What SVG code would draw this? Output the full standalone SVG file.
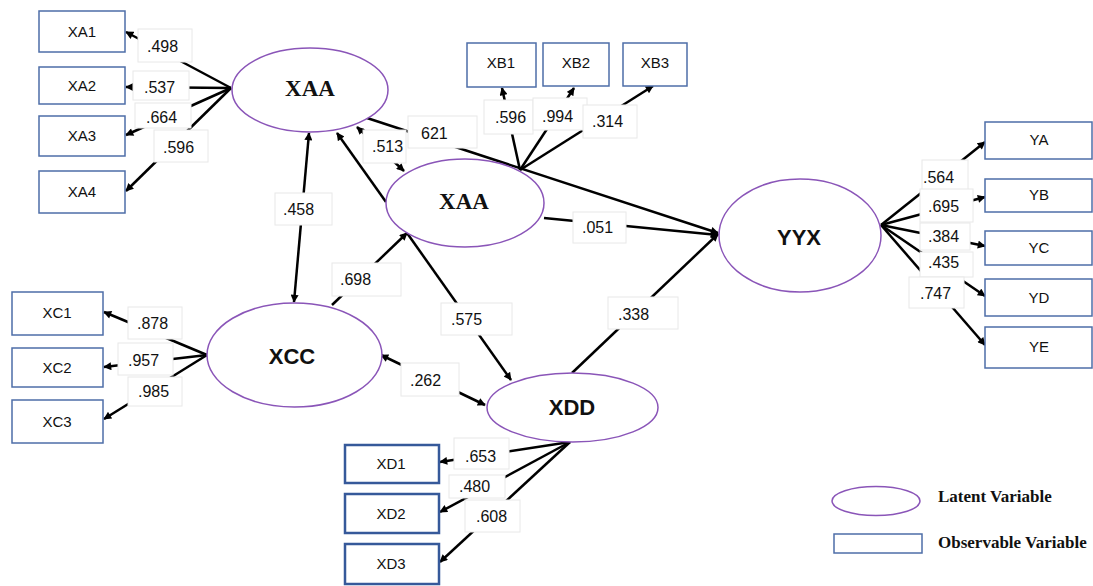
<svg xmlns="http://www.w3.org/2000/svg" width="1093" height="586" viewBox="0 0 1093 586">
  <defs>
    <marker id="arrow" viewBox="0 0 10 10" refX="9" refY="5" markerWidth="9" markerHeight="8" markerUnits="userSpaceOnUse" orient="auto-start-reverse">
      <path d="M0,0 L10,5 L0,10 z" fill="#000"/>
    </marker>
    <style>
      .bg { fill: #fff; }
      .latent { fill: #fff; stroke: #8a55b8; stroke-width: 1.5; }
      .obs { fill: #fff; stroke: #4e6ea8; stroke-width: 1.5; }
      .obs2 { fill: #fff; stroke: #36599a; stroke-width: 2.5; }
      .edge { fill: none; stroke: #000; stroke-width: 2.5; }
      .one { marker-end: url(#arrow); }
      .two { marker-start: url(#arrow); marker-end: url(#arrow); }
      .lbl { fill: #fff; stroke: #e8e8e8; stroke-width: 1; }
      .num { font-family: "Liberation Sans", Arial, sans-serif; font-size: 16px; fill: #111; }
      .obst { font-family: "Liberation Sans", Arial, sans-serif; font-size: 15px; fill: #111; text-anchor: middle; }
      .latS { font-family: "Liberation Sans", Arial, sans-serif; font-size: 22px; font-weight: bold; fill: #111; text-anchor: middle; }
      .latR { font-family: "Liberation Serif", "Times New Roman", serif; font-size: 23px; font-weight: bold; fill: #111; text-anchor: middle; }
      .leg { font-family: "Liberation Serif", "Times New Roman", serif; font-size: 17px; font-weight: bold; fill: #111; }
    </style>
  </defs>
  <rect class="bg" x="0" y="0" width="1093" height="586"/>

  <!-- paths and loadings -->
  <g id="connectors">
    <!-- XAA indicators -->
    <line class="edge one" x1="231" y1="88" x2="126" y2="32"/>
    <line class="edge one" x1="231" y1="88" x2="126" y2="87"/>
    <line class="edge one" x1="231" y1="88" x2="126" y2="135"/>
    <line class="edge one" x1="231" y1="88" x2="126" y2="191"/>
    <!-- structural paths -->
    <line class="edge two" x1="309" y1="133" x2="294" y2="302"/>
    <line class="edge two" x1="357" y1="127" x2="404" y2="171"/>
    <line class="edge one" x1="386" y1="202" x2="337" y2="133"/>
    <line class="edge one" x1="367" y1="118" x2="718" y2="233"/>
    <line class="edge one" x1="544" y1="218" x2="718" y2="235"/>
    <line class="edge one" x1="332" y1="305" x2="407" y2="233"/>
    <line class="edge one" x1="407" y1="233" x2="511" y2="380"/>
    <line class="edge two" x1="381" y1="355" x2="485" y2="405"/>
    <line class="edge one" x1="572" y1="373" x2="718" y2="234"/>
    <!-- XAA (right) indicators -->
    <line class="edge one" x1="520" y1="170" x2="502" y2="88"/>
    <line class="edge one" x1="520" y1="170" x2="574" y2="88"/>
    <line class="edge one" x1="520" y1="170" x2="653" y2="86"/>
    <!-- XCC indicators -->
    <line class="edge one" x1="207" y1="355" x2="104" y2="312"/>
    <line class="edge one" x1="207" y1="355" x2="104" y2="367"/>
    <line class="edge one" x1="207" y1="355" x2="104" y2="419"/>
    <!-- XDD indicators -->
    <line class="edge one" x1="570" y1="442" x2="440" y2="462"/>
    <line class="edge one" x1="570" y1="442" x2="440" y2="512"/>
    <line class="edge one" x1="570" y1="442" x2="440" y2="562"/>
    <!-- YYX indicators -->
    <line class="edge one" x1="881" y1="225" x2="985" y2="142"/>
    <line class="edge one" x1="881" y1="225" x2="985" y2="197"/>
    <line class="edge one" x1="881" y1="225" x2="985" y2="246"/>
    <line class="edge one" x1="881" y1="225" x2="985" y2="296"/>
    <line class="edge one" x1="881" y1="225" x2="985" y2="345"/>

    <!-- coefficient labels -->
    <rect class="lbl" x="138" y="29" width="54" height="33"/><text class="num" x="147" y="52">.498</text>
    <rect class="lbl" x="133" y="71" width="56" height="29"/><text class="num" x="144" y="93">.537</text>
    <rect class="lbl" x="135" y="103" width="56" height="25"/><text class="num" x="146" y="123">.664</text>
    <rect class="lbl" x="154" y="130" width="54" height="32"/><text class="num" x="163" y="153">.596</text>
    <rect class="lbl" x="275" y="193" width="57" height="32"/><text class="num" x="283" y="215">.458</text>
    <rect class="lbl" x="363" y="130" width="43" height="33"/><text class="num" x="372" y="152">.513</text>
    <rect class="lbl" x="408" y="116" width="69" height="32"/><text class="num" x="421" y="139">621</text>
    <rect class="lbl" x="484" y="100" width="49" height="34"/><text class="num" x="495" y="123">.596</text>
    <rect class="lbl" x="533" y="98" width="54" height="32"/><text class="num" x="542" y="122">.994</text>
    <rect class="lbl" x="583" y="105" width="54" height="33"/><text class="num" x="592" y="127">.314</text>
    <rect class="lbl" x="573" y="212" width="53" height="31"/><text class="num" x="582" y="233">.051</text>
    <rect class="lbl" x="922" y="160" width="46" height="30"/><text class="num" x="923" y="183">.564</text>
    <rect class="lbl" x="920" y="189" width="53" height="33"/><text class="num" x="928" y="212">.695</text>
    <rect class="lbl" x="920" y="223" width="50" height="27"/><text class="num" x="928" y="242">.384</text>
    <rect class="lbl" x="920" y="252" width="53" height="25"/><text class="num" x="928" y="268">.435</text>
    <rect class="lbl" x="909" y="277" width="55" height="31"/><text class="num" x="920" y="299">.747</text>
    <rect class="lbl" x="128" y="307" width="54" height="32"/><text class="num" x="137" y="329">.878</text>
    <rect class="lbl" x="118" y="343" width="55" height="32"/><text class="num" x="128" y="366">.957</text>
    <rect class="lbl" x="128" y="377" width="54" height="29"/><text class="num" x="138" y="397">.985</text>
    <rect class="lbl" x="332" y="263" width="69" height="33"/><text class="num" x="340" y="285">.698</text>
    <rect class="lbl" x="441" y="303" width="71" height="32"/><text class="num" x="451" y="325">.575</text>
    <rect class="lbl" x="401" y="363" width="58" height="33"/><text class="num" x="410" y="386">.262</text>
    <rect class="lbl" x="608" y="297" width="70" height="32"/><text class="num" x="618" y="320">.338</text>
    <rect class="lbl" x="454" y="438" width="55" height="31"/><text class="num" x="465" y="462">.653</text>
    <rect class="lbl" x="449" y="475" width="56" height="23"/><text class="num" x="459" y="492">.480</text>
    <rect class="lbl" x="465" y="500" width="55" height="32"/><text class="num" x="476" y="522">.608</text>
  </g>

  <!-- latent variables -->
  <g id="node-xaa-top">
    <ellipse class="latent" cx="310" cy="90" rx="78" ry="42"/>
    <text class="latR" x="310" y="96">XAA</text>
  </g>
  <g id="node-xaa-mid">
    <ellipse class="latent" cx="465" cy="203" rx="79" ry="44"/>
    <text class="latR" x="464" y="209">XAA</text>
  </g>
  <g id="node-yyx">
    <ellipse class="latent" cx="800" cy="235.5" rx="81" ry="56.5"/>
    <text class="latS" x="799" y="245">YYX</text>
  </g>
  <g id="node-xcc">
    <ellipse class="latent" cx="294.5" cy="355" rx="87.5" ry="52"/>
    <text class="latS" x="292" y="364">XCC</text>
  </g>
  <g id="node-xdd">
    <ellipse class="latent" cx="572.5" cy="407.5" rx="85.5" ry="34.5"/>
    <text class="latS" x="572" y="415">XDD</text>
  </g>

  <!-- observed indicators -->
  <g id="node-xa1"><rect class="obs" x="39" y="11" width="86" height="41"/><text class="obst" x="82" y="37">XA1</text></g>
  <g id="node-xa2"><rect class="obs" x="39" y="67" width="86" height="37"/><text class="obst" x="82" y="91">XA2</text></g>
  <g id="node-xa3"><rect class="obs" x="39" y="116" width="86" height="40"/><text class="obst" x="82" y="141">XA3</text></g>
  <g id="node-xa4"><rect class="obs" x="39" y="171" width="86" height="42"/><text class="obst" x="82" y="197">XA4</text></g>

  <g id="node-xb1"><rect class="obs" x="467" y="43" width="69" height="44"/><text class="obst" x="501" y="68">XB1</text></g>
  <g id="node-xb2"><rect class="obs" x="543" y="43" width="66" height="43"/><text class="obst" x="576" y="68">XB2</text></g>
  <g id="node-xb3"><rect class="obs" x="623" y="43" width="64" height="43"/><text class="obst" x="655" y="68">XB3</text></g>

  <g id="node-ya"><rect class="obs" x="985" y="122" width="107" height="37"/><text class="obst" x="1039" y="145">YA</text></g>
  <g id="node-yb"><rect class="obs" x="985" y="179" width="107" height="33"/><text class="obst" x="1039" y="200">YB</text></g>
  <g id="node-yc"><rect class="obs" x="985" y="231" width="107" height="34"/><text class="obst" x="1039" y="253">YC</text></g>
  <g id="node-yd"><rect class="obs" x="985" y="279" width="107" height="37"/><text class="obst" x="1039" y="303">YD</text></g>
  <g id="node-ye"><rect class="obs" x="985" y="327" width="107" height="41"/><text class="obst" x="1039" y="352">YE</text></g>

  <g id="node-xc1"><rect class="obs" x="12" y="292" width="91" height="43"/><text class="obst" x="57" y="318">XC1</text></g>
  <g id="node-xc2"><rect class="obs" x="12" y="348" width="91" height="39"/><text class="obst" x="57" y="373">XC2</text></g>
  <g id="node-xc3"><rect class="obs" x="12" y="400" width="91" height="43"/><text class="obst" x="57" y="427">XC3</text></g>

  <g id="node-xd1"><rect class="obs2" x="345" y="445" width="94" height="38"/><text class="obst" x="391" y="469">XD1</text></g>
  <g id="node-xd2"><rect class="obs2" x="345" y="494" width="94" height="39"/><text class="obst" x="391" y="519">XD2</text></g>
  <g id="node-xd3"><rect class="obs2" x="345" y="544" width="94" height="40"/><text class="obst" x="391" y="569">XD3</text></g>

  <!-- key -->
  <g id="legend">
    <ellipse class="latent" cx="876" cy="501" rx="44" ry="14.5"/>
    <text class="leg" x="938" y="502">Latent Variable</text>
    <rect class="obs" x="834" y="534" width="88" height="19"/>
    <text class="leg" x="938" y="548">Observable Variable</text>
  </g>
</svg>
